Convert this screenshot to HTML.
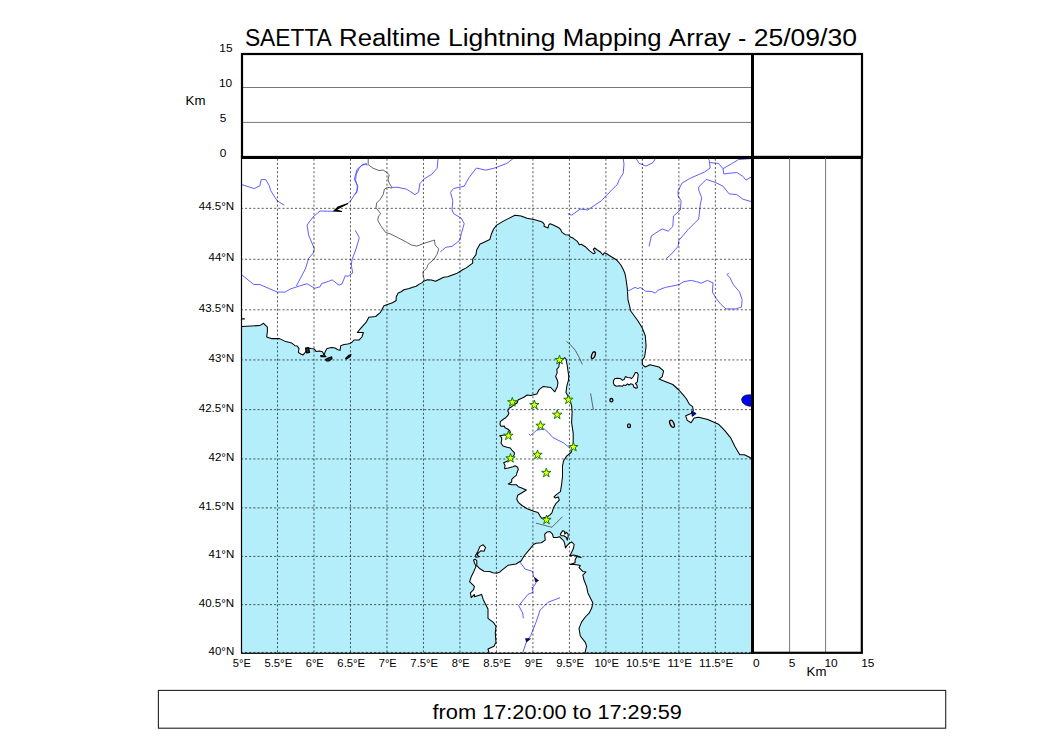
<!DOCTYPE html><html><head><meta charset="utf-8"><style>html,body{margin:0;padding:0;background:#fff;}svg{display:block;}text{font-family:"Liberation Sans",sans-serif;fill:#000;}</style></head><body>
<svg width="1050" height="750" viewBox="0 0 1050 750">
<defs><clipPath id="mc"><rect x="241.5" y="157.0" width="510.8" height="496.3"/></clipPath></defs>
<text x="244.88" y="45.5" font-size="24.15" textLength="86.94" lengthAdjust="spacingAndGlyphs">SAETTA</text><text x="339.13" y="45.5" font-size="24.15" textLength="101.55" lengthAdjust="spacingAndGlyphs">Realtime</text><text x="447.98" y="45.5" font-size="24.15" textLength="107.54" lengthAdjust="spacingAndGlyphs">Lightning</text><text x="562.84" y="45.5" font-size="24.15" textLength="98.70" lengthAdjust="spacingAndGlyphs">Mapping</text><text x="668.85" y="45.5" font-size="24.15" textLength="61.95" lengthAdjust="spacingAndGlyphs">Array</text><text x="738.11" y="45.5" font-size="24.15" textLength="8.30" lengthAdjust="spacingAndGlyphs">-</text><text x="753.72" y="45.5" font-size="24.15" textLength="103.30" lengthAdjust="spacingAndGlyphs">25/09/30</text>
<g clip-path="url(#mc)">
<rect x="241.5" y="157.0" width="510.79999999999995" height="496.29999999999995" fill="#b4eefa"/>
<path d="M241.8,326.4 L259.8,325.6 L263.6,323.3 L267.4,327.1 L267.4,331.0 L266.7,337.0 L271.2,338.6 L279.6,338.6 L285.7,341.6 L291.8,343.1 L295.0,345.7 L297.3,346.0 L299.0,348.6 L298.4,352.3 L300.7,354.0 L303.0,354.9 L305.3,352.3 L306.4,350.3 L308.1,348.0 L311.0,348.6 L314.4,349.1 L316.1,351.4 L319.6,350.9 L322.4,351.7 L323.6,353.7 L323.4,355.3 L320.5,355.8 L321.0,356.6 L326.0,356.6 L324.2,355.0 L325.3,351.4 L327.0,348.6 L331.6,347.4 L335.0,348.0 L337.9,349.7 L340.1,350.3 L340.7,345.7 L344.1,344.6 L347.6,344.0 L349.9,343.4 L352.1,342.3 L353.9,340.0 L358.9,340.1 L361.9,337.0 L363.4,332.5 L357.3,332.5 L360.4,328.7 L366.5,321.8 L368.8,317.2 L375.6,316.5 L380.2,312.7 L384.0,305.8 L392.4,302.8 L396.2,300.5 L396.2,296.7 L398.2,293.0 L401.1,291.8 L403.9,289.8 L409.2,288.6 L412.0,287.4 L416.1,286.2 L419.3,284.1 L421.7,282.9 L424.1,280.9 L427.4,279.7 L431.4,280.1 L435.5,281.3 L438.7,279.7 L443.6,277.2 L447.6,276.8 L451.7,275.2 L456.5,273.6 L462.2,270.0 L466.3,267.9 L472.7,263.1 L472.7,259.0 L476.0,254.6 L476.8,249.7 L480.0,244.0 L481.4,243.4 L489.8,239.6 L491.3,234.3 L493.6,229.0 L496.7,225.1 L504.3,220.6 L515.0,215.2 L521.0,216.0 L527.1,218.3 L534.8,219.8 L540.0,221.3 L542.7,222.3 L544.3,224.3 L544.0,226.3 L548.0,228.0 L548.7,225.0 L550.0,223.7 L553.3,225.0 L558.7,227.7 L560.7,229.7 L562.0,232.3 L565.3,234.7 L568.7,235.0 L570.0,236.7 L573.3,238.3 L577.3,241.3 L579.3,244.7 L581.3,244.3 L585.3,246.7 L589.3,250.7 L593.3,253.7 L595.3,252.7 L593.3,249.3 L594.7,248.0 L597.3,250.0 L600.0,251.7 L603.0,255.0 L604.3,252.7 L606.7,253.7 L609.7,255.7 L613.0,257.7 L616.3,259.7 L618.7,262.3 L621.0,265.3 L623.0,269.0 L624.7,272.7 L625.8,277.7 L627.3,288.4 L628.0,300.0 L628.6,302.2 L630.9,311.3 L637.7,320.5 L642.3,328.1 L645.3,335.7 L646.1,346.4 L644.6,357.0 L642.3,360.1 L642.3,364.7 L645.3,367.0 L649.9,364.7 L659.0,367.0 L663.6,370.8 L662.1,376.9 L659.0,379.1 L665.1,381.4 L672.8,384.5 L678.9,390.0 L683.4,395.2 L686.5,399.0 L689.5,404.4 L692.6,406.7 L693.3,410.5 L691.0,413.5 L685.7,415.8 L687.2,420.4 L691.0,422.7 L694.1,418.1 L698.7,417.3 L707.8,419.6 L718.5,424.2 L724.6,430.3 L730.7,437.9 L735.2,447.0 L739.8,454.7 L744.4,454.7 L749.0,457.0 L753.0,459.6 L753.0,156.0 L241.0,156.0 L241.0,326.4Z" fill="#fff" stroke="#000" stroke-width="1.05" stroke-linejoin="round"/>
<path d="M564.8,357.8 L566.0,359.0 L567.2,365.4 L568.0,371.0 L568.8,376.6 L568.4,380.6 L566.8,386.2 L566.0,392.6 L569.0,398.1 L571.6,405.6 L572.1,412.0 L571.6,422.7 L573.2,433.3 L573.2,444.0 L571.1,452.5 L566.8,455.9 L563.6,460.7 L562.5,466.0 L562.5,476.7 L561.5,485.2 L560.4,491.6 L556.1,494.8 L554.0,496.9 L555.1,498.0 L558.3,496.9 L559.3,500.1 L556.1,503.3 L553.5,507.6 L551.9,512.9 L549.7,515.1 L546.5,517.2 L541.7,518.3 L540.1,516.1 L538.0,512.4 L533.7,511.3 L527.3,508.7 L522.0,505.5 L518.3,502.3 L516.7,499.1 L517.7,495.3 L522.0,492.7 L526.3,490.0 L521.7,488.0 L518.3,486.7 L516.3,484.7 L511.7,484.7 L508.3,484.0 L511.7,482.0 L511.7,479.3 L513.7,477.3 L516.3,475.3 L517.0,472.7 L518.3,469.3 L517.7,467.3 L515.0,465.7 L513.0,466.7 L508.3,468.0 L504.7,468.7 L505.0,465.3 L503.7,462.7 L507.0,461.3 L510.3,460.0 L512.3,457.3 L514.3,454.7 L514.3,452.7 L512.3,450.7 L510.3,448.0 L507.0,447.3 L503.0,446.0 L501.0,443.3 L501.7,440.0 L501.7,437.7 L499.7,435.7 L504.3,435.0 L508.0,434.5 L510.3,432.7 L510.0,431.0 L507.7,429.0 L505.0,427.7 L504.3,426.0 L501.0,426.3 L500.0,424.3 L500.3,421.7 L503.7,419.0 L505.7,417.7 L507.7,415.7 L509.0,413.0 L507.7,411.0 L509.0,408.3 L511.7,406.7 L515.0,404.3 L517.0,403.0 L518.3,399.7 L521.7,398.3 L524.3,397.0 L527.0,395.0 L530.5,395.5 L536.9,393.9 L539.1,389.6 L543.3,386.4 L550.8,387.5 L554.8,391.8 L557.2,387.0 L558.0,383.0 L557.2,379.8 L555.6,376.6 L557.2,372.6 L556.8,369.4 L558.8,367.0 L559.2,363.8 L561.5,359.5Z" fill="#fff" stroke="#000" stroke-width="1.05" stroke-linejoin="round"/>
<path d="M489.3,654.0 L488.0,649.0 L494.0,646.3 L496.0,642.3 L495.3,633.0 L496.0,626.3 L493.3,622.3 L488.0,618.3 L488.0,609.0 L485.3,603.7 L483.3,599.7 L481.6,594.4 L474.4,596.8 L474.4,594.4 L471.2,597.6 L470.4,592.8 L473.6,589.6 L474.4,586.4 L469.6,581.6 L471.2,576.8 L473.6,572.0 L476.0,566.4 L474.5,563.0 L473.6,560.0 L475.2,559.2 L476.8,560.8 L476.8,565.6 L480.0,568.8 L484.0,571.2 L489.6,571.6 L492.8,572.8 L496.8,573.2 L500.0,572.0 L501.3,570.7 L508.0,565.3 L516.0,564.0 L521.3,560.7 L524.0,556.0 L530.0,548.8 L533.5,544.5 L536.1,543.2 L541.3,542.7 L545.2,540.1 L544.7,534.1 L547.3,531.9 L549.9,531.5 L552.5,534.1 L553.4,537.5 L556.9,537.5 L559.5,536.7 L561.2,538.4 L563.8,541.0 L564.7,543.6 L565.5,547.9 L567.3,545.3 L569.0,543.6 L571.6,541.9 L574.2,544.5 L573.3,548.8 L571.6,552.3 L569.9,555.7 L573.3,554.9 L576.8,555.7 L581.1,557.5 L576.8,556.6 L575.1,560.1 L575.1,562.7 L569.9,564.4 L574.2,564.4 L579.4,565.3 L580.3,565.7 L579.0,567.6 L582.8,571.4 L586.0,572.0 L582.8,575.2 L584.1,580.3 L586.6,586.6 L587.9,592.9 L590.4,598.0 L592.9,603.1 L591.7,608.1 L589.1,613.2 L585.3,617.0 L581.5,622.1 L579.0,628.4 L580.3,636.0 L585.3,642.3 L586.6,646.1 L584.7,654.0Z" fill="#fff" stroke="#000" stroke-width="1.05" stroke-linejoin="round"/>
<path d="M480.0,546.4 L483.2,544.8 L485.6,547.6 L484.0,551.2 L480.8,550.8 L478.4,552.8 L477.2,554.8 L479.2,556.8 L476.0,557.2 L475.6,555.2 L477.6,552.0Z" fill="#fff" stroke="#000" stroke-width="1.05" stroke-linejoin="round"/>
<path d="M613.4,381.0 L614.6,378.8 L617.0,378.2 L620.2,378.4 L622.2,380.2 L624.2,379.4 L625.4,376.6 L627.4,377.4 L630.2,377.8 L631.4,378.6 L633.0,377.0 L635.4,372.6 L637.0,372.6 L638.2,374.6 L637.8,377.8 L637.4,381.8 L635.4,383.4 L637.0,385.4 L637.4,387.8 L635.8,388.2 L633.8,387.0 L633.0,384.6 L630.6,383.8 L629.0,385.0 L627.4,383.8 L625.8,385.4 L623.4,385.0 L622.6,386.2 L619.4,385.8 L616.2,386.2 L614.2,385.0 L613.4,383.0Z" fill="#fff" stroke="#000" stroke-width="1.05" stroke-linejoin="round"/>
<path d="M560.3,534.1 L562.9,530.6 L564.7,531.5 L564.7,534.1 L566.4,532.3 L568.1,534.1 L568.1,536.7 L567.3,540.1 L566.4,537.5 L563.8,535.8 L561.2,535.8Z" fill="#fff" stroke="#000" stroke-width="1.05" stroke-linejoin="round"/>
<path d="M305.5,348.2 L308.5,347.7 L309.6,352.4 L306.6,352.9Z" fill="#333" stroke="#000" stroke-width="1.2" stroke-linejoin="round"/>
<path d="M325.6,359.6 L328.2,358.0 L331.6,356.9 L332.0,358.6 L329.0,361.0 L326.6,361.0Z" fill="#333" stroke="#000" stroke-width="1.2" stroke-linejoin="round"/>
<path d="M345.6,358.4 L349.0,355.2 L351.0,354.6 L350.2,356.6 L346.6,359.0Z" fill="#333" stroke="#000" stroke-width="1.2" stroke-linejoin="round"/>
<path d="M241.5,318.8 L244.8,318.8" stroke="#000" stroke-width="1.3"/>
<ellipse cx="593.4" cy="355.2" rx="1.7" ry="3.6" transform="rotate(20 593.4 355.2)" fill="#ddd" stroke="#000" stroke-width="1.3"/>
<ellipse cx="611.4" cy="400.2" rx="1.5" ry="1.7" transform="rotate(0 611.4 400.2)" fill="#ddd" stroke="#000" stroke-width="1.3"/>
<ellipse cx="629" cy="425.7" rx="1.5" ry="1.9" transform="rotate(0 629 425.7)" fill="#ddd" stroke="#000" stroke-width="1.3"/>
<ellipse cx="672" cy="423.8" rx="1.9" ry="3.8" transform="rotate(-25 672 423.8)" fill="#ddd" stroke="#000" stroke-width="1.3"/>
<path d="M242.1,184.7 L254.3,188.6 L260.0,185.7 L261.1,179.6 L265.7,179.6 L269.3,185.7 L270.7,190.7 L277.1,200.7 L284.3,205.3" fill="none" stroke="#4d4dff" stroke-width="0.9"/>
<path d="M333.5,211.3 L320.0,211.0 L312.9,217.1 L307.1,225.0 L308.6,235.0 L314.3,248.6 L313.3,253.0 L308.7,258.3 L305.3,269.0 L300.0,279.0 L296.4,286.0" fill="none" stroke="#4d4dff" stroke-width="0.9"/>
<path d="M348.3,203.0 L350.5,201.0 L357.1,190.7 L357.9,186.4 L354.3,179.3 L357.1,169.3 L361.4,165.7 L366.4,163.6 L367.1,165.7" fill="none" stroke="#4d4dff" stroke-width="0.9"/>
<path d="M241.5,274.6 L253.7,284.5 L259.8,284.5 L277.3,292.1 L285.0,292.1 L290.3,289.0 L299.4,286.0 L307.0,283.7 L314.7,288.3 L320.0,286.8 L321.5,283.7 L328.4,281.4 L332.2,279.9 L339.0,285.2 L342.1,283.7 L345.3,275.7 L348.0,276.3 L352.7,273.0 L351.3,265.0 L352.0,259.7 L356.0,249.0 L359.3,237.7 L355.3,230.3" fill="none" stroke="#4d4dff" stroke-width="0.9"/>
<path d="M366.4,164.0 L362.2,164.6 L359.2,168.2 L356.2,174.2 L355.6,180.2 L357.4,186.2 L356.8,192.2 L355.0,194.6" fill="none" stroke="#4d4dff" stroke-width="0.9"/>
<path d="M392.2,187.4 L397.0,187.2 L406.6,189.2 L415.0,194.6 L418.6,192.2 L419.8,183.8 L424.0,179.0 L431.8,174.2 L437.2,168.2 L437.8,161.0 L438.4,158.0" fill="none" stroke="#4d4dff" stroke-width="0.9"/>
<path d="M440.3,251.8 L446.0,247.2 L452.0,246.4 L459.7,240.3 L461.2,234.2 L464.2,223.6 L461.2,218.2 L453.6,213.7 L452.0,209.9 L452.8,200.7 L450.5,192.3 L453.6,188.5 L464.2,186.2 L468.8,177.9 L476.4,168.0 L485.6,170.2 L494.7,168.0 L506.9,163.4 L513.8,158.0" fill="none" stroke="#4d4dff" stroke-width="0.9"/>
<path d="M567.9,213.7 L571.7,215.2 L580.0,209.1 L587.7,209.9 L601.4,200.8 L605.7,196.1 L617.1,184.7 L619.4,179.4 L623.2,173.3 L624.0,164.1 L623.2,158.0" fill="none" stroke="#4d4dff" stroke-width="0.9"/>
<path d="M636.2,158.8 L639.2,163.4 L646.1,166.0 L653.0,162.6 L655.2,158.8" fill="none" stroke="#4d4dff" stroke-width="0.9"/>
<path d="M649.1,246.4 L651.4,235.8 L662.1,228.9 L668.2,231.2 L672.8,226.6 L673.5,216.0 L680.4,209.9 L681.1,200.7 L678.1,196.1 L678.1,190.8 L681.9,183.2 L689.5,178.6 L704.8,171.8 L710.1,168.0 L709.3,160.3 L707.8,158.0" fill="none" stroke="#4d4dff" stroke-width="0.9"/>
<path d="M710.1,162.6 L718.5,163.4 L723.0,168.7 L723.8,174.0 L729.1,173.3 L736.8,172.5 L742.9,176.3 L745.9,180.1 L752.0,176.5" fill="none" stroke="#4d4dff" stroke-width="0.9"/>
<path d="M723.0,168.7 L732.2,163.4 L738.3,159.6 L752.0,158.5" fill="none" stroke="#4d4dff" stroke-width="0.9"/>
<path d="M666.1,258.7 L670.5,255.0 L678.1,246.4 L678.9,240.3 L688.0,229.7 L698.7,219.0 L700.2,205.3 L701.7,197.7 L698.7,190.0 L698.7,187.0 L706.3,179.4 L715.4,182.4 L723.0,186.2 L729.1,193.9 L736.8,194.6 L742.9,199.2 L752.0,201.8" fill="none" stroke="#4d4dff" stroke-width="0.9"/>
<path d="M627.0,291.5 L630.7,289.7 L635.0,287.4 L638.1,288.7 L640.0,287.4 L642.4,288.7 L645.5,291.2 L651.7,291.5 L655.4,293.1 L657.9,290.3 L665.3,287.4 L671.5,286.2 L679.0,284.7 L683.9,281.6 L691.3,280.4 L696.3,281.6 L701.2,283.2 L707.4,280.4 L713.0,282.9 L712.4,292.1 L716.1,298.3 L721.0,304.5 L726.0,308.9 L735.9,308.9 L741.5,307.0 L742.1,299.6 L739.6,292.1 L733.4,284.7 L729.7,277.3 L727.2,274.8 L728.5,273.0" fill="none" stroke="#4d4dff" stroke-width="0.9"/>
<path d="M528.9,433.9 L530.5,435.5 L536.9,430.1 L544.4,429.1 L548.1,432.3 L552.9,437.6 L563.6,442.9 L570.0,448.3" fill="none" stroke="#4d4dff" stroke-width="0.9"/>
<path d="M520.0,562.0 L525.3,569.3 L532.7,571.3 L533.3,576.0 L537.3,580.7 L535.3,584.0 L532.7,588.0 L532.0,587.0 L533.1,592.3 L528.0,594.3 L518.7,605.7 L522.7,613.0 L523.3,618.3" fill="none" stroke="#4d4dff" stroke-width="0.9"/>
<path d="M560.0,597.7 L548.0,602.3 L540.0,610.3 L536.0,622.3 L530.7,635.7 L526.7,641.0 L522.7,653.0" fill="none" stroke="#4d4dff" stroke-width="0.9"/>
<path d="M368.2,157.0 L368.2,164.6 L373.0,168.2 L379.0,170.6 L383.2,170.0 L387.4,173.0 L389.2,174.8 L388.0,179.0 L389.2,183.2 L391.6,186.8 L392.2,188.0 L387.4,187.4 L384.4,189.2 L383.2,194.6 L380.2,199.4 L376.6,203.0 L376.0,207.8 L380.8,213.8 L378.4,216.2 L377.8,220.4 L380.8,225.8 L385.6,232.4 L391.0,234.2 L398.2,237.8 L406.7,242.3 L411.2,244.9 L416.9,246.1 L423.3,243.6 L432.2,240.8 L434.5,240.0 L435.1,244.9 L438.7,248.9 L437.1,254.2 L433.9,259.4 L428.2,264.3 L426.6,268.3 L422.9,271.6 L423.3,277.2 L424.6,279.7" fill="none" stroke="#555" stroke-width="0.9"/>
<path d="M566.4,341.4 L570.4,344.6 L575.2,350.2 L579.2,357.4 L582.4,364.6" fill="none" stroke="#444" stroke-width="0.8"/>
<path d="M590.6,393.4 L593.4,410.0" fill="none" stroke="#444" stroke-width="0.8"/>
<path d="M535.9,523.1 L551.9,527.3 L562.5,516.7" fill="none" stroke="#444" stroke-width="0.8"/>
<path d="M741.5,399.5 L742.8,396.8 L745.5,395.2 L749.5,394.8 L753,395 L753,406 L749.2,406.2 L745.5,405 L742.5,402.6 Z" fill="#0000ff" stroke="#000" stroke-width="0.7"/>
<path d="M334,211 L338,207 L348,203.5 L340,207.5 L336,210 L342,211.5 Z" fill="#000" stroke="#000" stroke-width="1.2"/>
<path d="M691.6,410.8 L696.2,413.6 L692.2,416.4 Z" fill="#0000ee" stroke="#000" stroke-width="0.8"/>
<path d="M534.5,577.5 L538.5,580.5 L535.5,582 Z" fill="#0000aa" stroke="#000" stroke-width="0.6"/>
<path d="M525.5,638.5 L530.5,638.8 L526.5,642 Z" fill="#0000aa" stroke="#000" stroke-width="0.6"/>
<line x1="277.49" y1="652.36" x2="277.49" y2="156" stroke="#000" stroke-width="0.65" stroke-dasharray="2.083,2.083"/>
<line x1="313.98" y1="652.36" x2="313.98" y2="156" stroke="#000" stroke-width="0.65" stroke-dasharray="2.083,2.083"/>
<line x1="350.47" y1="652.36" x2="350.47" y2="156" stroke="#000" stroke-width="0.65" stroke-dasharray="2.083,2.083"/>
<line x1="386.96" y1="652.36" x2="386.96" y2="156" stroke="#000" stroke-width="0.65" stroke-dasharray="2.083,2.083"/>
<line x1="423.45" y1="652.36" x2="423.45" y2="156" stroke="#000" stroke-width="0.65" stroke-dasharray="2.083,2.083"/>
<line x1="459.94" y1="652.36" x2="459.94" y2="156" stroke="#000" stroke-width="0.65" stroke-dasharray="2.083,2.083"/>
<line x1="496.43" y1="652.36" x2="496.43" y2="156" stroke="#000" stroke-width="0.65" stroke-dasharray="2.083,2.083"/>
<line x1="532.92" y1="652.36" x2="532.92" y2="156" stroke="#000" stroke-width="0.65" stroke-dasharray="2.083,2.083"/>
<line x1="569.41" y1="652.36" x2="569.41" y2="156" stroke="#000" stroke-width="0.65" stroke-dasharray="2.083,2.083"/>
<line x1="605.90" y1="652.36" x2="605.90" y2="156" stroke="#000" stroke-width="0.65" stroke-dasharray="2.083,2.083"/>
<line x1="642.39" y1="652.36" x2="642.39" y2="156" stroke="#000" stroke-width="0.65" stroke-dasharray="2.083,2.083"/>
<line x1="678.88" y1="652.36" x2="678.88" y2="156" stroke="#000" stroke-width="0.65" stroke-dasharray="2.083,2.083"/>
<line x1="715.37" y1="652.36" x2="715.37" y2="156" stroke="#000" stroke-width="0.65" stroke-dasharray="2.083,2.083"/>
<line x1="240.8" y1="652.43" x2="753" y2="652.43" stroke="#000" stroke-width="0.65" stroke-dasharray="2.083,2.083"/>
<line x1="240.8" y1="604.61" x2="753" y2="604.61" stroke="#000" stroke-width="0.65" stroke-dasharray="2.083,2.083"/>
<line x1="240.8" y1="556.43" x2="753" y2="556.43" stroke="#000" stroke-width="0.65" stroke-dasharray="2.083,2.083"/>
<line x1="240.8" y1="507.88" x2="753" y2="507.88" stroke="#000" stroke-width="0.65" stroke-dasharray="2.083,2.083"/>
<line x1="240.8" y1="458.95" x2="753" y2="458.95" stroke="#000" stroke-width="0.65" stroke-dasharray="2.083,2.083"/>
<line x1="240.8" y1="409.64" x2="753" y2="409.64" stroke="#000" stroke-width="0.65" stroke-dasharray="2.083,2.083"/>
<line x1="240.8" y1="359.93" x2="753" y2="359.93" stroke="#000" stroke-width="0.65" stroke-dasharray="2.083,2.083"/>
<line x1="240.8" y1="309.82" x2="753" y2="309.82" stroke="#000" stroke-width="0.65" stroke-dasharray="2.083,2.083"/>
<line x1="240.8" y1="259.29" x2="753" y2="259.29" stroke="#000" stroke-width="0.65" stroke-dasharray="2.083,2.083"/>
<line x1="240.8" y1="208.33" x2="753" y2="208.33" stroke="#000" stroke-width="0.65" stroke-dasharray="2.083,2.083"/>
<path d="M559.50,355.10 L560.60,358.49 L564.16,358.49 L561.28,360.58 L562.38,363.96 L559.50,361.87 L556.62,363.96 L557.72,360.58 L554.84,358.49 L558.40,358.49Z" fill="#ffff00" stroke="#008000" stroke-width="0.95" stroke-linejoin="round"/>
<path d="M568.40,394.80 L569.50,398.19 L573.06,398.19 L570.18,400.28 L571.28,403.66 L568.40,401.57 L565.52,403.66 L566.62,400.28 L563.74,398.19 L567.30,398.19Z" fill="#ffff00" stroke="#008000" stroke-width="0.95" stroke-linejoin="round"/>
<path d="M512.30,397.30 L513.40,400.69 L516.96,400.69 L514.08,402.78 L515.18,406.16 L512.30,404.07 L509.42,406.16 L510.52,402.78 L507.64,400.69 L511.20,400.69Z" fill="#ffff00" stroke="#008000" stroke-width="0.95" stroke-linejoin="round"/>
<path d="M534.40,400.10 L535.50,403.49 L539.06,403.49 L536.18,405.58 L537.28,408.96 L534.40,406.87 L531.52,408.96 L532.62,405.58 L529.74,403.49 L533.30,403.49Z" fill="#ffff00" stroke="#008000" stroke-width="0.95" stroke-linejoin="round"/>
<path d="M557.20,409.80 L558.30,413.19 L561.86,413.19 L558.98,415.28 L560.08,418.66 L557.20,416.57 L554.32,418.66 L555.42,415.28 L552.54,413.19 L556.10,413.19Z" fill="#ffff00" stroke="#008000" stroke-width="0.95" stroke-linejoin="round"/>
<path d="M540.50,420.80 L541.60,424.19 L545.16,424.19 L542.28,426.28 L543.38,429.66 L540.50,427.57 L537.62,429.66 L538.72,426.28 L535.84,424.19 L539.40,424.19Z" fill="#ffff00" stroke="#008000" stroke-width="0.95" stroke-linejoin="round"/>
<path d="M508.40,430.80 L509.50,434.19 L513.06,434.19 L510.18,436.28 L511.28,439.66 L508.40,437.57 L505.52,439.66 L506.62,436.28 L503.74,434.19 L507.30,434.19Z" fill="#ffff00" stroke="#008000" stroke-width="0.95" stroke-linejoin="round"/>
<path d="M573.40,442.10 L574.50,445.49 L578.06,445.49 L575.18,447.58 L576.28,450.96 L573.40,448.87 L570.52,450.96 L571.62,447.58 L568.74,445.49 L572.30,445.49Z" fill="#ffff00" stroke="#008000" stroke-width="0.95" stroke-linejoin="round"/>
<path d="M537.50,449.90 L538.60,453.29 L542.16,453.29 L539.28,455.38 L540.38,458.76 L537.50,456.67 L534.62,458.76 L535.72,455.38 L532.84,453.29 L536.40,453.29Z" fill="#ffff00" stroke="#008000" stroke-width="0.95" stroke-linejoin="round"/>
<path d="M510.50,453.40 L511.60,456.79 L515.16,456.79 L512.28,458.88 L513.38,462.26 L510.50,460.17 L507.62,462.26 L508.72,458.88 L505.84,456.79 L509.40,456.79Z" fill="#ffff00" stroke="#008000" stroke-width="0.95" stroke-linejoin="round"/>
<path d="M546.30,468.00 L547.40,471.39 L550.96,471.39 L548.08,473.48 L549.18,476.86 L546.30,474.77 L543.42,476.86 L544.52,473.48 L541.64,471.39 L545.20,471.39Z" fill="#ffff00" stroke="#008000" stroke-width="0.95" stroke-linejoin="round"/>
<path d="M546.50,515.00 L547.60,518.39 L551.16,518.39 L548.28,520.48 L549.38,523.86 L546.50,521.77 L543.62,523.86 L544.72,520.48 L541.84,518.39 L545.40,518.39Z" fill="#ffff00" stroke="#008000" stroke-width="0.95" stroke-linejoin="round"/>
</g>
<rect x="241.5" y="157.0" width="510.79999999999995" height="496.29999999999995" fill="none" stroke="#000" stroke-width="1.2"/>
<line x1="242" y1="87.5" x2="752" y2="87.5" stroke="#777" stroke-width="1"/>
<line x1="242" y1="122.4" x2="752" y2="122.4" stroke="#777" stroke-width="1"/>
<rect x="242" y="54" width="620" height="103" fill="none" stroke="#000" stroke-width="2.2"/>
<line x1="241" y1="157.5" x2="863" y2="157.5" stroke="#000" stroke-width="3"/>
<line x1="752.5" y1="54" x2="752.5" y2="653.5" stroke="#000" stroke-width="3"/>
<line x1="789.6" y1="157" x2="789.6" y2="652" stroke="#777" stroke-width="1"/>
<line x1="825.6" y1="157" x2="825.6" y2="652" stroke="#777" stroke-width="1"/>
<rect x="752.3" y="157" width="109.5" height="495.8" fill="none" stroke="#000" stroke-width="2.2"/>
<text x="219.30" y="52.4" font-size="10.92" textLength="13.23" lengthAdjust="spacingAndGlyphs">15</text>
<text x="219.00" y="87.3" font-size="10.92" textLength="13.23" lengthAdjust="spacingAndGlyphs">10</text>
<text x="219.80" y="122.0" font-size="10.92" textLength="6.62" lengthAdjust="spacingAndGlyphs">5</text>
<text x="219.80" y="156.9" font-size="10.92" textLength="6.62" lengthAdjust="spacingAndGlyphs">0</text>
<text x="185.56" y="105.2" font-size="12.81" textLength="19.88" lengthAdjust="spacingAndGlyphs">Km</text>
<text x="208.49" y="654.8" font-size="10.71" textLength="25.71" lengthAdjust="spacingAndGlyphs">40°N</text>
<text x="198.76" y="606.6" font-size="10.71" textLength="35.44" lengthAdjust="spacingAndGlyphs">40.5°N</text>
<text x="208.49" y="558.4" font-size="10.71" textLength="25.71" lengthAdjust="spacingAndGlyphs">41°N</text>
<text x="198.76" y="509.9" font-size="10.71" textLength="35.44" lengthAdjust="spacingAndGlyphs">41.5°N</text>
<text x="208.49" y="461.0" font-size="10.71" textLength="25.71" lengthAdjust="spacingAndGlyphs">42°N</text>
<text x="198.76" y="411.6" font-size="10.71" textLength="35.44" lengthAdjust="spacingAndGlyphs">42.5°N</text>
<text x="208.49" y="361.9" font-size="10.71" textLength="25.71" lengthAdjust="spacingAndGlyphs">43°N</text>
<text x="198.76" y="311.8" font-size="10.71" textLength="35.44" lengthAdjust="spacingAndGlyphs">43.5°N</text>
<text x="208.49" y="261.3" font-size="10.71" textLength="25.71" lengthAdjust="spacingAndGlyphs">44°N</text>
<text x="198.76" y="210.3" font-size="10.71" textLength="35.44" lengthAdjust="spacingAndGlyphs">44.5°N</text>
<text x="232.78" y="667.0" font-size="10.71" textLength="18.03" lengthAdjust="spacingAndGlyphs">5°E</text>
<text x="264.41" y="667.0" font-size="10.71" textLength="27.77" lengthAdjust="spacingAndGlyphs">5.5°E</text>
<text x="305.76" y="667.0" font-size="10.71" textLength="18.03" lengthAdjust="spacingAndGlyphs">6°E</text>
<text x="337.39" y="667.0" font-size="10.71" textLength="27.77" lengthAdjust="spacingAndGlyphs">6.5°E</text>
<text x="378.74" y="667.0" font-size="10.71" textLength="18.03" lengthAdjust="spacingAndGlyphs">7°E</text>
<text x="410.37" y="667.0" font-size="10.71" textLength="27.77" lengthAdjust="spacingAndGlyphs">7.5°E</text>
<text x="451.72" y="667.0" font-size="10.71" textLength="18.03" lengthAdjust="spacingAndGlyphs">8°E</text>
<text x="483.35" y="667.0" font-size="10.71" textLength="27.77" lengthAdjust="spacingAndGlyphs">8.5°E</text>
<text x="524.70" y="667.0" font-size="10.71" textLength="18.03" lengthAdjust="spacingAndGlyphs">9°E</text>
<text x="556.33" y="667.0" font-size="10.71" textLength="27.77" lengthAdjust="spacingAndGlyphs">9.5°E</text>
<text x="594.44" y="667.0" font-size="10.71" textLength="24.52" lengthAdjust="spacingAndGlyphs">10°E</text>
<text x="626.06" y="667.0" font-size="10.71" textLength="34.26" lengthAdjust="spacingAndGlyphs">10.5°E</text>
<text x="667.42" y="667.0" font-size="10.71" textLength="24.52" lengthAdjust="spacingAndGlyphs">11°E</text>
<text x="699.04" y="667.0" font-size="10.71" textLength="34.26" lengthAdjust="spacingAndGlyphs">11.5°E</text>
<text x="752.99" y="667.0" font-size="10.92" textLength="6.62" lengthAdjust="spacingAndGlyphs">0</text>
<text x="788.69" y="667.0" font-size="10.92" textLength="6.62" lengthAdjust="spacingAndGlyphs">5</text>
<text x="824.48" y="667.0" font-size="10.92" textLength="13.23" lengthAdjust="spacingAndGlyphs">10</text>
<text x="861.18" y="667.0" font-size="10.92" textLength="13.23" lengthAdjust="spacingAndGlyphs">15</text>
<text x="806.56" y="676.0" font-size="12.81" textLength="19.88" lengthAdjust="spacingAndGlyphs">Km</text>
<rect x="158.4" y="690.4" width="787.3" height="37.8" fill="none" stroke="#222" stroke-width="1.1"/>
<text x="432.49" y="719.0" font-size="19.74" textLength="43.75" lengthAdjust="spacingAndGlyphs">from</text><text x="482.22" y="719.0" font-size="19.74" textLength="84.43" lengthAdjust="spacingAndGlyphs">17:20:00</text><text x="572.63" y="719.0" font-size="19.74" textLength="18.87" lengthAdjust="spacingAndGlyphs">to</text><text x="597.48" y="719.0" font-size="19.74" textLength="84.43" lengthAdjust="spacingAndGlyphs">17:29:59</text>
</svg></body></html>
